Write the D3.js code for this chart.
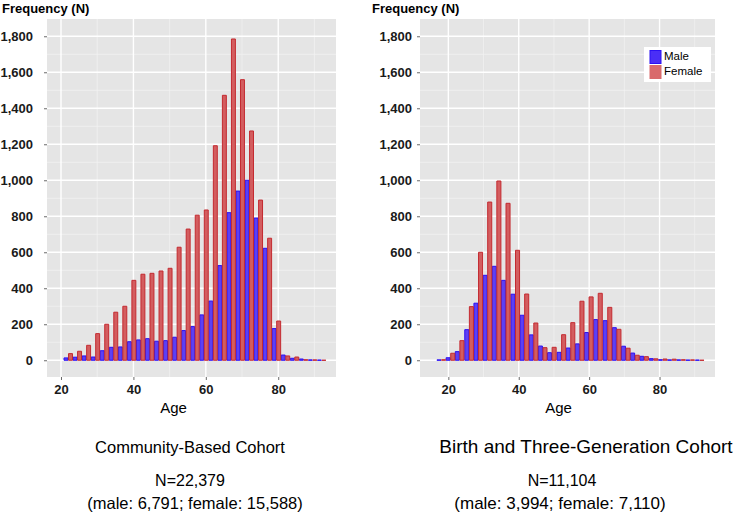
<!DOCTYPE html>
<html>
<head>
<meta charset="utf-8">
<script src="https://cdn.jsdelivr.net/npm/d3@7/dist/d3.min.js"></script>
<style>
    body { margin: 0; background: #fff; }
    svg { display: block; font-family: "Liberation Sans", Arial, sans-serif; }
    .tick-text { font-size: 13px; font-weight: bold; fill: #1a1a1a; }
    .axis-title { font-size: 13px; font-weight: bold; fill: #000; }
    .x-title { font-size: 15px; fill: #000; }
    .caption { fill: #000; }
    .legend-text { font-size: 11.5px; fill: #000; }
</style>
</head>
<body>
<div id="chart"></div>
<script>
// tick values
var yTicks = [0, 200, 400, 600, 800, 1000, 1200, 1400, 1600, 1800]
var yMinorTicks = [100, 300, 500, 700, 900, 1100, 1300, 1500, 1700]
var xTicks = [20, 40, 60, 80]
var xMinorTicks = [10, 30, 50, 70, 90]

// Community-Based Cohort (bin centres in years)
var communityAges = [22, 24.5, 27, 29.5, 32, 34.5, 37, 39.5, 42, 44.5, 47, 49.5, 52, 54.5, 57,
    59.5, 62, 64.5, 67, 69.5, 72, 74.5, 77, 79.5, 82, 84.5, 87, 89.5, 92]
var communityMale = [13, 17, 24, 18, 53, 72, 74, 103, 113, 120, 106, 109, 128, 165, 187,
    252, 329, 526, 820, 940, 1000, 790, 622, 176, 29, 11, 7, 2, 1]
var communityFemale = [37, 50, 83, 148, 200, 267, 300, 444, 478, 483, 496, 511, 628, 729, 806,
    835, 1192, 1472, 1785, 1559, 1274, 890, 678, 218, 24, 18, 3, 2, 0]
var communityBinWidth = 2.5
var communityCaption = ["Community-Based Cohort", "N=22,379", "(male: 6,791; female: 15,588)"]

// Birth and Three-Generation Cohort
var birthAges = [18.0, 20.6, 23.2, 25.9, 28.5, 31.1, 33.7, 36.3, 39.0, 41.6, 44.2, 46.8, 49.4, 52.1, 54.7,
    57.3, 59.9, 62.5, 65.2, 67.8, 70.4, 73.0, 75.6, 78.3, 80.9, 83.5, 86.1, 88.7, 91.4]
var birthMale = [2, 14, 48, 170, 317, 472, 522, 444, 367, 250, 141, 79, 42, 44, 68,
    91, 154, 226, 220, 181, 78, 40, 22, 9, 3, 2, 2, 1, 1]
var birthFemale = [3, 39, 109, 298, 600, 879, 996, 872, 611, 368, 207, 70, 72, 142, 209,
    328, 352, 372, 294, 172, 67, 28, 20, 8, 7, 6, 3, 2, 0]
var birthBinWidth = 2.62
var birthCaption = ["Birth and Three-Generation Cohort", "N=11,104", "(male: 3,994; female: 7,110)"]

var legendLabels = ["Male", "Female"]

var maleFill = "#5d40f4", maleStroke = "#2a10f2"
var femaleFill = "#d35d5f", femaleStroke = "#c42a30"

var svg = d3.select("#chart")
    .append("svg")
        .attr("width", 737)
        .attr("height", 514)

var fmt = d3.format(",")

function histPanel(config){
    var g = svg.append("g")

    var x = d3.scaleLinear()
        .domain(config.xDomain)
        .range([config.left, config.right])

    var y = d3.scaleLinear()
        .domain([-93, 1896])
        .range([377, 19])

    // panel background
    g.append("rect")
        .attr("x", config.left)
        .attr("y", 19)
        .attr("width", config.right - config.left)
        .attr("height", 377 - 19)
        .attr("fill", "#e5e5e5")

    var grid = g.append("g")

    grid.selectAll(".ymin")
        .data(yMinorTicks)
        .enter().append("line")
        .attr("x1", config.left).attr("x2", config.right)
        .attr("y1", d=> y(d)).attr("y2", d=> y(d))
        .attr("stroke", "#f2f2f2").attr("stroke-width", 0.7)

    grid.selectAll(".xmin")
        .data(xMinorTicks.filter(d=> x(d) > config.left && x(d) < config.right))
        .enter().append("line")
        .attr("x1", d=> x(d)).attr("x2", d=> x(d))
        .attr("y1", 19).attr("y2", 377)
        .attr("stroke", "#f2f2f2").attr("stroke-width", 0.7)

    grid.selectAll(".ymaj")
        .data(yTicks)
        .enter().append("line")
        .attr("x1", config.left).attr("x2", config.right)
        .attr("y1", d=> y(d)).attr("y2", d=> y(d))
        .attr("stroke", "#ffffff").attr("stroke-width", 1.4)

    grid.selectAll(".xmaj")
        .data(xTicks)
        .enter().append("line")
        .attr("x1", d=> x(d)).attr("x2", d=> x(d))
        .attr("y1", 19).attr("y2", 377)
        .attr("stroke", "#ffffff").attr("stroke-width", 1.4)

    // axes
    var y_axis = d3.axisLeft(y)
        .tickValues(yTicks)
        .tickFormat(fmt)
        .tickSize(3)
        .tickPadding(config.yPad)

    var x_axis = d3.axisBottom(x)
        .tickValues(xTicks)
        .tickSize(3)
        .tickPadding(5)

    var yAxisCall = g.append("g")
        .attr("transform", "translate(" + config.left + ",0)")
        .call(y_axis)

    var xAxisCall = g.append("g")
        .attr("transform", "translate(0,377)")
        .call(x_axis)

    ;[yAxisCall, xAxisCall].forEach(function(a){
        a.select(".domain").remove()
        a.selectAll(".tick line").attr("stroke", "#444").attr("stroke-width", 0.8)
        a.selectAll(".tick text")
            .attr("class", "tick-text")
            .attr("font-family", null)
            .attr("font-size", null)
            .attr("fill", null)
    })

    // bars: male left half, female right half of each bin
    var bins = config.ages.map(function(a, i){
        return { age: a, male: config.male[i], female: config.female[i] }
    })
    var bw = config.binWidth

    function barPath(x0, x1, v){
        return "M" + x(x0) + "," + y(0) + "V" + y(v) + "H" + x(x1) + "V" + y(0) + "Z"
    }

    var chart = g.append("g")

    chart.selectAll(".male")
        .data(bins)
        .enter().append("path")
        .attr("d", d=> barPath(d.age - bw/2 + 0.08, d.age - 0.08, d.male))
        .attr("fill", maleFill)
        .attr("stroke", maleStroke)
        .attr("stroke-width", 1)

    chart.selectAll(".female")
        .data(bins)
        .enter().append("path")
        .attr("d", d=> barPath(d.age + 0.08, d.age + bw/2 - 0.08, d.female))
        .attr("fill", femaleFill)
        .attr("stroke", femaleStroke)
        .attr("stroke-width", 1)

    // labels
    g.append("text")
        .attr("class", "axis-title")
        .attr("x", config.titleX)
        .attr("y", 13)
        .text("Frequency (N)")

    g.append("text")
        .attr("class", "x-title")
        .attr("x", (config.left + config.right) / 2 + config.ageShift)
        .attr("y", 413)
        .attr("text-anchor", "middle")
        .text("Age")

    var capY = [453, 486, 509]
    config.caption.forEach(function(t, i){
        g.append("text")
            .attr("class", "caption")
            .attr("x", config.captionX[i])
            .attr("y", capY[i])
            .attr("font-size", config.captionSize[i] + "px")
            .attr("text-anchor", "middle")
            .text(t)
    })

    return { x: x, y: y, g: g }
}

var leftPanel = histPanel({
    left: 47, right: 336,
    xDomain: [16.13, 95.96],
    yPad: 11,
    titleX: 2,
    ageShift: -18,
    ages: communityAges, male: communityMale, female: communityFemale,
    binWidth: communityBinWidth,
    caption: communityCaption,
    captionX: [190, 190, 195],
    captionSize: [16.5, 16, 16.5]
})

var rightPanel = histPanel({
    left: 420, right: 715,
    xDomain: [11.95, 95.75],
    yPad: 5,
    titleX: 372,
    ageShift: -9,
    ages: birthAges, male: birthMale, female: birthFemale,
    binWidth: birthBinWidth,
    caption: birthCaption,
    captionX: [586, 562, 560],
    captionSize: [19, 16, 17]
})

function drawLegend(){
    var leg = svg.append("g")
        .attr("transform", "translate(644,47)")

    leg.append("rect")
        .attr("width", 67).attr("height", 35)
        .attr("fill", "#ffffff")

    var keys = [
        { fill: "#4a2ef6", stroke: "#2a10f2" },
        { fill: "#d96a6c", stroke: "#d96a6c" }
    ]

    keys.forEach(function(k, i){
        leg.append("rect")
            .attr("x", 6).attr("y", 3.5 + i * 15)
            .attr("width", 11).attr("height", 13)
            .attr("fill", k.fill)
            .attr("stroke", k.stroke)
            .attr("stroke-width", 1)
        leg.append("text")
            .attr("class", "legend-text")
            .attr("x", 20).attr("y", 10 + i * 15)
            .attr("dominant-baseline", "middle")
            .text(legendLabels[i])
    })
}

drawLegend()
</script>
</body>
</html>
